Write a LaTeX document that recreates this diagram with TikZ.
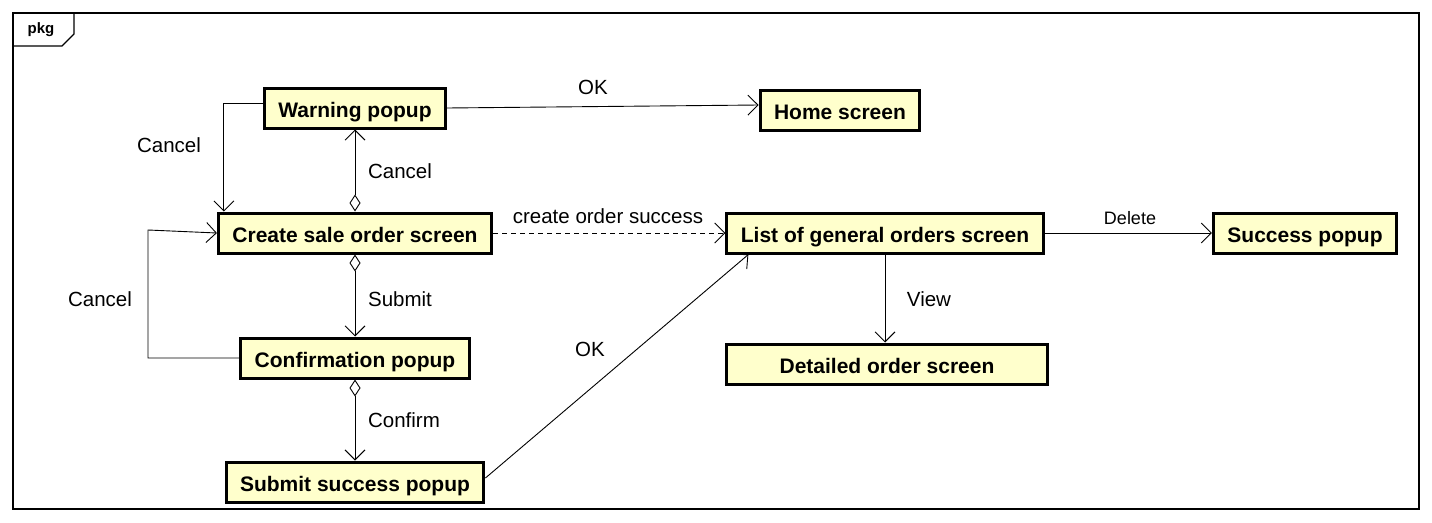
\documentclass[tikz,border=0pt]{standalone}
\usepackage{fontspec}
\setmainfont{Liberation Sans}
\usepackage{tikz}
\usetikzlibrary{arrows.meta,calc}
\definecolor{boxfill}{HTML}{FFFFCC}

\tikzset{
	screen/.style={draw,line width=3pt,fill=boxfill,inner xsep=14pt,minimum height=40pt,
		text height=22pt,text depth=4pt,font=\fontsize{21}{25}\selectfont\bfseries},
	lbl/.style={font=\fontsize{20.5}{24}\selectfont},
	flow/.style={line width=0.9pt,-{Straight Barb[length=10pt,width=20pt]}},
	owned/.style={line width=0.9pt,{Diamond[open,length=17pt,width=11pt]}-{Straight Barb[length=10pt,width=20pt]}}
}

\begin{document}
\begin{tikzpicture}[x=1pt,y=-1pt]

	\useasboundingbox (0,0) rectangle (1432,522);
	\draw[line width=1.3pt] (13,13) rectangle (1419,509); %frame
	\draw[line width=1.1pt] (13,46) -- (62,46) -- (74,34) -- (74,13); %tab
	\node[font=\fontsize{15}{18}\selectfont\bfseries] (pkg) at (41,30) {pkg};

	\node[screen] (warn) at (355,108) {Warning popup};
	\node[screen] (home) at (840,110) {Home screen};
	\node[screen] (create) at (355,233) {Create sale order screen};
	\node[screen] (list) at (885,233) {List of general orders screen};
	\node[screen] (succ) at (1305,233) {Success popup};
	\node[screen] (conf) at (355,358) {Confirmation popup};
	\node[screen,minimum width=321pt] (detail) at (887,364) {Detailed order screen};
	\node[screen] (subm) at (355,482) {Submit success popup};

	\coordinate (loop) at (148,230);

	\draw[flow] ([yshift=5pt]warn.west) -| ([xshift=7pt]create.north west); %cancel back
	\draw[owned] (create.north) -- (warn.south);
	\draw[flow] (warn.east) -- ([yshift=5pt]home.west);
	\draw[flow,dashed,dash pattern=on 5pt off 4pt] (create.east) -- (list.west);
	\draw[owned] (create.south) -- (conf.north);
	\draw[flow] (conf.west) -| (loop) -- (create.west); %cancel from confirmation
	\draw[owned] (conf.south) -- (subm.north);
	\draw[flow] ([yshift=4pt]subm.east) -- ([xshift=23pt]list.south west);
	\draw[flow] (list.east) -- (succ.west);
	\draw[flow] (list.south) -- (list.south|-detail.north);

	\node[lbl] (l1) at (169,145) {Cancel};
	\node[lbl] (l2) at (400,171) {Cancel};
	\node[lbl] (l3) at (593,87) {OK};
	\node[lbl] (l4) at (608,216) {create order success};
	\node[lbl] (l5) at (400,299) {Submit};
	\node[lbl] (l6) at (100,299) {Cancel};
	\node[lbl] (l7) at (404,420) {Confirm};
	\node[lbl] (l8) at (590,349) {OK};
	\node[font=\fontsize{18}{22}\selectfont] (l9) at (1130,218) {Delete};
	\node[lbl] (l10) at (929,299) {View};

\end{tikzpicture}
\end{document}
